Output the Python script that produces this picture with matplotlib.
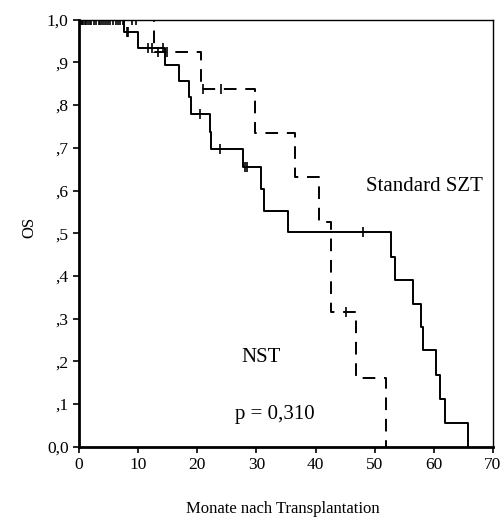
import numpy as np
import matplotlib
matplotlib.use('Agg')
import matplotlib.pyplot as plt

plt.rcParams['font.family'] = ['Liberation Serif', 'DejaVu Serif']

# Standard SZT (solid): event times and survival after each step
szt_times = [0, 7.6, 9.9, 14.6, 16.9, 18.6, 19.0, 22.2, 22.3, 27.8, 30.7, 31.3,
             35.4, 52.8, 53.5, 56.4, 57.9, 58.1, 60.3, 61.1, 61.9, 65.7]
szt_surv = [1.0, 0.972, 0.934, 0.895, 0.856, 0.819, 0.780, 0.737, 0.697, 0.654,
            0.604, 0.552, 0.503, 0.445, 0.390, 0.334, 0.280, 0.226, 0.167, 0.112,
            0.056, 0.0]
szt_cens_t = [0.3, 0.7, 1.2, 1.6, 2.1, 2.6, 3.4, 3.9, 4.5, 5.3, 6.2, 7.0,
              8.1, 8.3, 11.6, 12.3, 14.2, 20.4, 23.8, 28.1, 28.4, 48.0]

# NST (dashed)
nst_times = [0, 12.6, 20.6, 29.7, 36.6, 40.5, 42.6, 46.8, 51.9]
nst_surv = [1.0, 0.925, 0.838, 0.734, 0.632, 0.527, 0.315, 0.160, 0.0]
nst_cens_t = [0.5, 1.0, 1.9, 2.9, 3.6, 4.2, 4.9, 5.7, 6.6, 7.5, 8.9, 9.6,
              13.3, 14.8, 21.0, 24.0, 45.2]

x_ticks = [0, 10, 20, 30, 40, 50, 60, 70]
y_ticks = [0.0, 0.1, 0.2, 0.3, 0.4, 0.5, 0.6, 0.7, 0.8, 0.9, 1.0]
y_ticklabels = ['0,0', ',1', ',2', ',3', ',4', ',5', ',6', ',7', ',8', ',9', '1,0']


def surv_at(times, surv, t):
    idx = np.searchsorted(times, t, side='right') - 1
    return np.array(surv)[idx]


fig = plt.figure(figsize=(5.01, 5.19), dpi=100)
ax = fig.add_axes([0.1577, 0.1393, 0.8263, 0.8227])

ax.step(szt_times, szt_surv, where='post', color='black', lw=1.4)
ax.plot(szt_cens_t, surv_at(szt_times, szt_surv, szt_cens_t), '|',
        color='black', ms=7, mew=1.2)

ax.step(nst_times, nst_surv, where='post', color='black', lw=1.4,
        dashes=(6.5, 4.5))
ax.plot(nst_cens_t, surv_at(nst_times, nst_surv, nst_cens_t), '|',
        color='black', ms=7, mew=1.2)

ax.set_xlim(0, 70)
ax.set_ylim(0, 1.0)
ax.set_xticks(x_ticks)
ax.set_yticks(y_ticks)
ax.set_yticklabels(y_ticklabels)
ax.tick_params(labelsize=12.5, direction='out', length=4, width=1.2)

for side in ['left', 'bottom']:
    ax.spines[side].set_linewidth(2)
for side in ['top', 'right']:
    ax.spines[side].set_linewidth(1)

ax.text(48.5, 0.598, 'Standard SZT', fontsize=15)
ax.text(27.5, 0.198, 'NST', fontsize=15)
ax.text(26.3, 0.066, 'p = 0,310', fontsize=15)

# axis titles placed in figure coords
fig.text(283 / 501, 1 - 509 / 519, 'Monate nach Transplantation',
         fontsize=12, ha='center', va='center')
fig.text(29 / 501, 1 - 227 / 519, 'OS', fontsize=12, rotation=90,
         ha='center', va='center')

fig.savefig('out.png', dpi=100)
